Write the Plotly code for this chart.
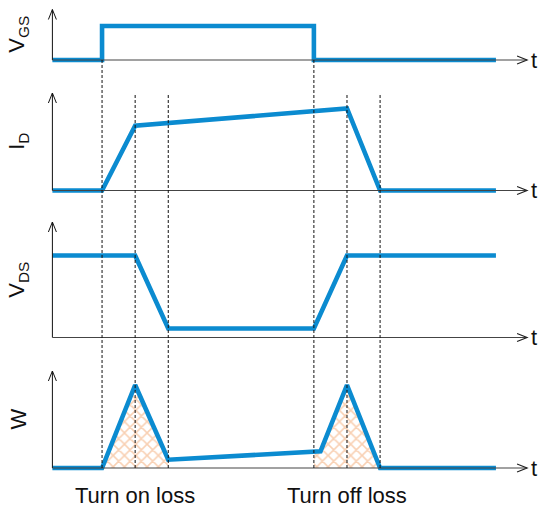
import plotly.graph_objects as go

# ---------------- data ----------------
t_vgs = [0, 1.5, 1.5, 7.9, 7.9, 13.4]
v_gs = [0, 0, 1, 1, 0, 0]

t_id = [0, 1.5, 2.5, 8.9, 9.9, 13.4]
i_d = [0, 0, 0.79, 1.0, 0, 0]

t_vds = [0, 2.5, 3.5, 7.9, 8.9, 13.4]
v_ds = [1, 1, 0.11, 0.11, 1, 1]

t_w = [0, 1.5, 2.5, 3.5, 8.1, 8.9, 9.9, 13.4]
w = [0, 0, 1.0, 0.1, 0.2, 1.0, 0, 0]

t_on_fill = [1.5, 2.5, 3.5, 3.5]
w_on_fill = [0, 1.0, 0.1, 0]
t_off_fill = [7.9, 7.9, 8.1, 8.9, 9.9]
w_off_fill = [0, 0.196, 0.2, 1.0, 0]

switch_times = [1.5, 2.5, 3.5, 7.9, 8.9, 9.9]
panel_labels = ["V<sub>GS</sub>", "I<sub>D</sub>", "V<sub>DS</sub>", "W"]
bottom_labels = ["Turn on loss", "Turn off loss"]
bottom_label_t = [2.5, 8.9]
t_end = 14.34

# ---------------- layout geometry (pixels) ----------------
WIDTH, HEIGHT = 541, 507
X0, SX = 52.4, 33.1  # px of t=0, px per time unit
# baseline px, px per unit value, arrow tip px
panels = [(60, 34, 9.5), (190.5, 82, 93), (337.5, 82, 222), (468, 83, 371)]

BLUE = "#0b8bd0"
HATCH = "#f2a267"
FONT = "Liberation Sans, Arial, sans-serif"

fig = go.Figure()
layout_axes = {}
mapping = []
for i, (base, unit, tip) in enumerate(panels):
    bot_px = base + 10
    top_px = tip - 6
    dom = [1 - bot_px / HEIGHT, 1 - top_px / HEIGHT]
    rng = [(base - bot_px) / unit, (base - top_px) / unit]
    name = "yaxis" if i == 0 else f"yaxis{i+1}"
    layout_axes[name] = dict(domain=dom, range=rng, visible=False, anchor="x",
                             fixedrange=True)
    mapping.append((base, unit, tip))

yref = ["y", "y2", "y3", "y4"]


def paper_y(px):
    return 1 - px / HEIGHT


series = [(t_vgs, v_gs), (t_id, i_d), (t_vds, v_ds), (t_w, w)]

# hatch fills
for tx, ty in [(t_on_fill, w_on_fill), (t_off_fill, w_off_fill)]:
    fig.add_trace(go.Scatter(
        x=tx, y=ty, yaxis="y4", mode="lines", fill="toself",
        line=dict(width=0, color="rgba(0,0,0,0)"),
        fillcolor="rgba(0,0,0,0)",
        fillpattern=dict(shape="x", fgcolor=HATCH, bgcolor="rgba(0,0,0,0)",
                         size=8, solidity=0.35),
        hoverinfo="skip", showlegend=False))

for i, (tx, ty) in enumerate(series):
    fig.add_trace(go.Scatter(
        x=tx, y=ty, yaxis=yref[i], mode="lines",
        line=dict(color=BLUE, width=4.6), showlegend=False, hoverinfo="skip"))

shapes = []
annotations = []
for i, (base, unit, tip) in enumerate(mapping):
    yr = yref[i]
    top_val = (base - tip) / unit
    # y axis line
    shapes.append(dict(type="line", xref="x", yref=yr, x0=0, x1=0, y0=0, y1=top_val,
                       line=dict(color="#111111", width=1), layer="above"))
    # y chevron
    dx = 4 / SX
    dy = 10 / unit
    shapes.append(dict(type="path", xref="x", yref=yr,
                       path=f"M {-dx} {top_val - dy} L 0 {top_val} L {dx} {top_val - dy}",
                       line=dict(color="#111111", width=1), layer="above"))
    # t axis line
    shapes.append(dict(type="line", xref="x", yref=yr, x0=0, x1=t_end, y0=0, y1=0,
                       line=dict(color="#444444", width=1.2), layer="above"))
    cx = 10 / SX
    cy = 4 / unit
    shapes.append(dict(type="path", xref="x", yref=yr,
                       path=f"M {t_end - cx} {cy} L {t_end} 0 L {t_end - cx} {-cy}",
                       line=dict(color="#222222", width=1.2), layer="above"))
    annotations.append(dict(x=t_end + 0.05, y=0, xref="x", yref=yr, text="t",
                            showarrow=False, xanchor="left", yanchor="middle",
                            font=dict(size=22, color="#111111", family=FONT)))
    annotations.append(dict(x=18 / WIDTH, y=paper_y((base + tip) / 2), xref="paper",
                            yref="paper", text=panel_labels[i], textangle=-90,
                            showarrow=False, xanchor="center", yanchor="middle",
                            font=dict(size=22, color="#111111", family=FONT)))

# dashed switching lines
vgs_base = mapping[0][0]
id_tip = mapping[1][2]
w_base = mapping[3][0]
for k, ts in enumerate(switch_times):
    top_px = vgs_base if ts in (1.5, 7.9) else id_tip
    shapes.append(dict(type="line", xref="x", yref="paper", x0=ts, x1=ts,
                       y0=paper_y(w_base), y1=paper_y(top_px),
                       line=dict(color="#111111", width=1, dash="3px,2px"),
                       layer="above"))

for lbl, tl in zip(bottom_labels, bottom_label_t):
    annotations.append(dict(x=tl, y=paper_y(495), xref="x", yref="paper", text=lbl,
                            showarrow=False, xanchor="center", yanchor="middle",
                            font=dict(size=22, color="#111111", family=FONT)))

fig.update_layout(
    width=WIDTH, height=HEIGHT, autosize=False,
    margin=dict(l=0, r=0, t=0, b=0),
    paper_bgcolor="white", plot_bgcolor="rgba(0,0,0,0)",
    xaxis=dict(range=[-X0 / SX, (WIDTH - X0) / SX], visible=False, fixedrange=True),
    shapes=shapes, annotations=annotations, showlegend=False,
    **layout_axes,
)

fig.write_html("out.html", config={"displayModeBar": False},
               post_script="document.body.style.margin='0';document.body.style.overflow='hidden';")
